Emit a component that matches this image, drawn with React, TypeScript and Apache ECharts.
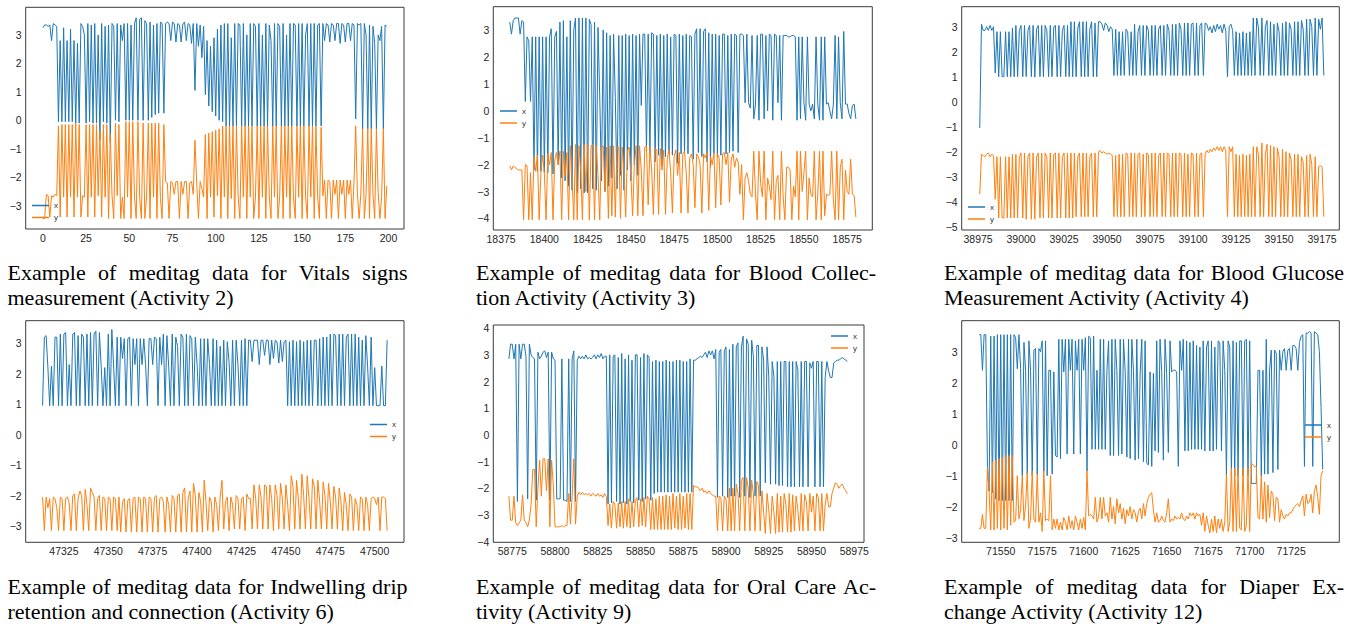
import React, { useEffect, useRef } from "react";
import * as echarts from "echarts";

// ---------------- data ----------------
const A2_START = 0;
const A2_X = [
  3.25, 3.35, 3.35, 3.3, 3.35, 2.8, 3.4, 3.35, 3.3, -0.05,
  2.8, -0.05, 3.25, -0.05, 2.8, -0.05, 3.2, -0.05, 2.8, -0.1,
  2.7, -0.1, 3.4, 3.3, 3.0, -0.1, 3.4, -0.05, 3.35, -0.1,
  3.4, -0.1, 3.0, -0.7, 3.4, -0.05, 3.3, -0.1, 3.35, -0.8,
  3.4, 3.3, 0.0, 3.4, -0.05, 3.35, 2.8, 3.4, 0.0, 3.4,
  0.0, 3.35, 0.0, 3.4, 3.6, 0.0, 3.55, 3.6, 0.0, 3.5,
  3.4, 0.0, 3.45, 0.1, 3.35, 0.2, 3.4, 0.25, 3.45, 3.4,
  0.25, 3.4, 3.45, 3.4, 2.8, 3.45, 3.4, 2.75, 3.4, 3.35,
  2.75, 3.4, 3.45, 2.8, 3.4, 3.35, 2.7, 3.4, 1.05, 3.4,
  2.6, 3.35, 2.2, 3.3, 0.9, 2.8, 0.5, 2.6, 0.3, 2.9,
  0.15, 3.2, 0.0, 3.35, -0.05, 3.4, -0.2, 3.4, -0.2, 2.9,
  -0.2, 3.4, -0.2, 3.4, 3.35, -0.2, 3.4, -0.2, 3.0, -0.2,
  3.4, -0.2, 3.4, 3.3, -0.2, 3.4, -0.2, 3.0, -0.2, 3.4,
  -0.2, 3.35, 2.8, -0.2, 3.4, -0.2, 3.4, 3.3, -0.2, 3.4,
  -0.2, 3.0, -0.2, 3.4, -0.2, 3.4, 3.35, -0.2, 3.4, -0.2,
  3.4, -0.2, 3.0, 3.4, -0.2, 3.4, -0.2, 3.4, -0.2, 3.35,
  3.4, -0.2, 3.4, 2.8, 3.4, 3.35, 2.75, 3.4, 3.35, 2.8,
  3.4, 3.4, 2.7, 3.4, 3.35, 2.75, 3.4, 3.4, 2.8, 3.4,
  3.35, 0.05, 3.4, 3.35, 3.4, -0.3, 3.4, 3.0, -0.3, 3.35,
  -0.3, 3.3, 2.7, -0.3, 3.0, 2.8, 3.3, -0.3, 3.35, 3.3,
];
const A2_Y = [
  -3.45, -3.45, -2.6, -2.65, -3.4, -2.65, -2.7, -2.6, -2.65, -0.2,
  -3.4, -0.15, -2.7, -0.15, -3.4, -0.15, -2.7, -0.15, -3.4, -0.1,
  -2.7, -0.15, -3.4, -2.65, -2.7, -0.15, -3.4, -0.15, -2.7, -0.15,
  -3.4, -0.15, -2.65, -0.4, -3.4, -0.15, -2.7, -0.15, -3.45, -0.5,
  -2.65, -3.45, -0.1, -2.65, -0.15, -3.45, -2.7, -3.45, -0.05, -2.7,
  -0.05, -3.45, -0.05, -2.7, -3.45, -0.05, -2.75, -3.45, -0.1, -3.45,
  -2.7, -0.1, -3.45, -0.1, -2.7, -0.1, -3.45, -0.1, -2.75, -3.45,
  -0.15, -2.15, -2.2, -3.45, -2.15, -2.2, -2.6, -2.15, -2.15, -3.45,
  -2.15, -2.6, -2.15, -2.15, -3.45, -2.2, -2.15, -2.6, -0.7, -2.2,
  -3.45, -2.15, -2.4, -2.7, -0.5, -3.45, -0.45, -2.7, -0.4, -3.4,
  -0.35, -2.65, -0.3, -3.45, -0.2, -2.7, -0.2, -3.45, -0.2, -2.75,
  -0.2, -3.45, -0.2, -2.7, -3.45, -0.2, -2.7, -0.2, -3.45, -0.2,
  -2.7, -0.2, -3.45, -2.7, -0.2, -3.45, -0.2, -2.7, -0.2, -3.45,
  -0.2, -2.7, -3.45, -0.2, -2.7, -0.2, -3.45, -2.7, -0.2, -3.45,
  -0.2, -2.7, -0.2, -3.45, -0.2, -2.7, -3.45, -0.2, -2.7, -0.2,
  -3.45, -0.2, -2.7, -3.45, -0.2, -2.7, -0.2, -3.45, -0.2, -2.7,
  -3.45, -0.25, -2.65, -2.1, -3.45, -2.1, -2.15, -3.45, -2.1, -2.6,
  -2.1, -3.45, -2.1, -2.6, -2.1, -3.45, -2.1, -2.6, -2.1, -3.45,
  -2.2, -0.2, -2.6, -3.45, -2.55, -0.3, -3.45, -2.6, -0.3, -3.45,
  -0.3, -2.6, -3.45, -0.3, -2.55, -3.45, -2.7, -0.3, -3.45, -2.3,
];

const A3_START = 18380;
const A3_X = [
  3.3, 2.85, 3.35, 3.45, 3.45, 3.45, 2.85, 3.35, 3.3, 0.35,
  2.75, 2.6, 0.35, 2.75, -2.2, 2.75, -2.25, 2.75, -2.25, 2.75,
  -2.3, 2.75, -2.3, 2.75, 3.05, -2.35, 2.75, 2.95, -2.0, 3.3,
  -2.5, 3.35, -2.6, 2.75, -2.8, 3.35, -2.95, 3.0, 3.45, -3.05,
  3.45, -2.9, 3.45, -3.05, 3.45, -3.05, 3.4, 3.2, -2.9, 3.3,
  -2.95, 3.1, 0.55, -2.6, 3.0, -3.0, 2.9, -2.8, 2.8, -2.5,
  2.85, 0.5, -2.9, 2.8, -2.4, 2.8, -2.95, 2.85, -2.2, 2.8,
  -2.6, 2.85, -2.0, 2.8, -2.4, 2.85, 0.2, 2.85, 2.85, -1.5,
  2.85, -1.6, 2.9, 2.85, -1.9, 2.8, -1.65, 2.85, -2.05, 2.8,
  -1.7, 2.85, -1.6, 2.75, -1.65, 2.85, 2.8, -1.95, 2.85, -1.6,
  2.8, -1.55, 2.85, -1.6, 2.8, 2.75, -1.8, 2.85, 3.05, -1.55,
  3.05, -1.7, 2.95, 3.05, -1.9, 2.9, -2.1, 2.85, -1.6, 2.85,
  -1.7, 2.8, -1.65, 2.85, 2.85, -1.6, 2.8, -1.55, 2.85, -1.5,
  2.85, 2.8, -1.55, 2.85, 2.85, 2.8, 0.3, 2.85, 0.3, 0.1,
  2.8, -0.3, 0.25, 2.8, -0.35, 2.85, 2.85, -0.3, 2.8, 0.0,
  2.85, 2.8, -0.35, 2.85, 2.8, 0.3, 2.8, -0.35, 2.8, 2.8,
  2.8, 2.75, 2.75, 2.8, 2.8, 2.75, -0.35, 2.75, -0.3, 2.75,
  0.3, -0.35, 2.75, 0.25, 0.0, 0.25, -0.3, 2.75, 0.25, -0.35,
  2.75, -0.35, 2.75, 0.25, 0.3, 0.0, -0.3, 0.25, 2.8, -0.3,
  2.75, 0.3, -0.3, 2.95, 0.25, 0.25, -0.1, -0.3, 0.2, 0.25,
  -0.3,
];
const A3_Y = [
  -2.05, -2.2, -2.05, -2.1, -2.15, -2.2, -2.2, -2.2, -4.05, -2.0,
  -2.05, -4.05, -2.3, -4.05, -1.7, -2.25, -1.65, -4.05, -2.3, -1.65,
  -2.3, -4.05, -1.6, -2.0, -1.55, -4.05, -1.85, -1.55, -2.0, -1.5,
  -4.05, -1.5, -2.4, -1.55, -4.05, -1.3, -2.5, -4.05, -1.25, -4.05,
  -1.3, -2.2, -4.05, -1.25, -3.0, -1.25, -4.05, -1.3, -1.25, -4.05,
  -1.3, -2.4, -4.05, -1.35, -1.3, -3.0, -1.35, -4.0, -1.3, -3.9,
  -1.3, -3.95, -1.35, -1.35, -4.0, -1.35, -2.3, -3.95, -1.5, -1.35,
  -2.4, -3.9, -2.0, -1.3, -3.9, -1.3, -2.2, -3.9, -1.35, -1.3,
  -3.5, -1.35, -2.2, -3.85, -1.4, -1.45, -3.85, -1.4, -2.2, -1.45,
  -3.85, -1.8, -1.45, -2.3, -3.8, -1.7, -1.45, -2.4, -1.55, -3.8,
  -1.6, -1.5, -2.3, -3.8, -1.75, -1.6, -2.0, -3.6, -1.6, -1.7,
  -2.0, -3.8, -1.6, -1.75, -1.55, -3.7, -1.7, -2.0, -1.55, -3.6,
  -1.6, -1.75, -3.5, -1.6, -1.55, -2.0, -1.55, -3.4, -1.8, -1.6,
  -2.1, -1.75, -1.9, -3.1, -2.0, -4.05, -2.5, -2.3, -2.6, -3.1,
  -3.2, -1.5, -3.1, -4.05, -1.5, -2.7, -3.2, -1.5, -4.05, -2.5,
  -2.8, -3.3, -1.5, -4.05, -2.6, -2.4, -4.05, -1.5, -3.2, -4.05,
  -2.1, -2.1, -2.2, -4.05, -2.8, -3.2, -1.5, -4.05, -1.5, -3.0,
  -2.3, -1.5, -4.05, -2.5, -3.1, -3.2, -1.5, -4.05, -3.1, -1.5,
  -4.05, -1.5, -3.9, -3.1, -3.15, -3.1, -1.5, -3.3, -4.05, -1.5,
  -4.05, -2.1, -1.8, -4.05, -2.2, -3.0, -3.1, -1.8, -3.1, -3.15,
  -3.95,
];

const A4_START = 38976;
const A4_X = [
  -1.05, 3.1, 2.85, 2.85, 3.0, 2.85, 3.05, 2.85, 3.0, 1.15,
  2.8, 1.0, 2.8, 1.0, 1.0, 2.8, 1.0, 2.8, 1.0, 2.95,
  1.0, 3.05, 1.0, 2.85, 3.05, 1.0, 3.05, 1.0, 2.85, 3.05,
  1.0, 3.05, 0.98, 2.9, 3.05, 1.0, 3.05, 1.0, 3.05, 2.85,
  1.0, 3.05, 1.0, 3.0, 3.05, 1.0, 3.05, 1.0, 2.85, 3.05,
  1.0, 3.05, 1.0, 3.2, 1.0, 3.2, 1.0, 2.95, 3.2, 1.0,
  3.2, 1.0, 3.2, 1.0, 2.9, 3.2, 1.0, 3.15, 1.0, 3.2,
  3.2, 3.1, 2.85, 3.15, 3.05, 2.8, 3.0, 2.9, 1.05, 2.9,
  1.05, 2.8, 1.05, 2.8, 1.05, 2.9, 2.8, 1.05, 2.8, 1.05,
  3.1, 1.05, 2.8, 3.05, 1.05, 3.05, 1.05, 3.05, 2.85, 1.05,
  3.05, 1.05, 3.05, 1.05, 2.9, 3.05, 1.05, 3.05, 1.05, 3.1,
  2.85, 1.05, 3.1, 1.05, 3.1, 1.05, 3.15, 2.9, 1.05, 3.15,
  1.05, 3.15, 1.05, 3.1, 3.15, 1.05, 3.15, 1.05, 3.05, 3.15,
  1.05, 3.15, 3.1, 2.85, 3.0, 2.75, 3.05, 2.8, 3.1, 2.9,
  3.05, 2.75, 3.1, 2.85, 1.0, 3.0, 3.1, 2.85, 1.05, 2.8,
  1.05, 2.75, 1.05, 2.8, 1.05, 2.75, 1.05, 2.8, 1.05, 3.35,
  1.05, 3.35, 2.95, 1.05, 3.35, 1.05, 3.0, 3.25, 1.05, 3.2,
  1.05, 3.1, 1.05, 3.15, 2.8, 1.05, 3.15, 1.05, 3.2, 1.05,
  3.15, 2.9, 1.05, 3.2, 1.05, 3.2, 1.05, 3.25, 2.9, 1.05,
  3.3, 1.05, 3.3, 3.0, 1.05, 3.35, 1.05, 3.3, 2.9, 3.35,
  1.05,
];
const A4_Y = [
  -3.7, -2.1, -2.15, -2.2, -2.1, -2.05, -2.2, -2.1, -2.15, -3.9,
  -2.2, -4.65, -2.2, -4.65, -4.65, -2.2, -4.65, -2.2, -4.65, -2.1,
  -4.65, -2.1, -4.65, -2.2, -2.05, -4.65, -2.05, -4.7, -2.2, -2.05,
  -4.7, -2.05, -4.7, -2.2, -2.05, -4.65, -2.05, -4.65, -2.05, -2.2,
  -4.65, -2.05, -4.65, -2.1, -2.05, -4.65, -2.05, -4.65, -2.2, -2.05,
  -4.65, -2.05, -4.65, -2.05, -4.65, -2.05, -4.6, -2.2, -2.05, -4.6,
  -2.05, -4.6, -2.05, -4.6, -2.2, -2.05, -4.6, -2.05, -4.6, -2.0,
  -1.95, -2.05, -2.0, -2.05, -2.1, -2.05, -2.1, -2.15, -4.6, -2.15,
  -4.6, -2.1, -4.6, -2.1, -4.6, -2.05, -2.1, -4.6, -2.05, -4.6,
  -2.05, -4.6, -2.1, -2.05, -4.6, -2.1, -4.6, -2.05, -2.1, -4.6,
  -2.05, -4.6, -2.05, -4.6, -2.15, -2.05, -4.6, -2.05, -4.6, -2.05,
  -2.1, -4.6, -2.05, -4.6, -2.05, -4.6, -2.05, -2.1, -4.6, -2.05,
  -4.6, -2.1, -4.6, -2.05, -2.1, -4.6, -2.05, -4.6, -2.1, -2.05,
  -4.6, -2.1, -1.95, -2.05, -1.9, -2.0, -1.85, -1.95, -1.8, -1.95,
  -1.8, -2.0, -1.8, -1.95, -4.6, -1.8, -2.0, -1.8, -4.6, -2.1,
  -4.6, -2.15, -4.6, -2.1, -4.6, -2.15, -4.6, -2.1, -4.6, -1.8,
  -4.6, -1.8, -2.1, -4.6, -1.65, -4.6, -2.1, -1.7, -4.6, -1.75,
  -4.6, -1.8, -4.6, -1.85, -2.2, -4.6, -1.9, -4.6, -2.0, -4.6,
  -2.05, -2.3, -4.6, -2.1, -4.6, -2.1, -4.6, -2.2, -2.4, -4.6,
  -2.15, -4.6, -2.1, -2.5, -4.6, -2.2, -4.6, -2.6, -2.55, -2.6,
  -4.6,
];

const A6_START = 47313;
const A6_X = [
  0.95, 3.2, 3.25, 2.2, 0.95, 2.25, 0.95, 3.2, 3.2, 0.95,
  3.3, 0.95, 3.3, 3.35, 0.95, 2.3, 0.95, 3.3, 3.35, 0.95,
  3.25, 0.95, 3.3, 3.2, 0.95, 3.3, 0.95, 3.35, 0.95, 3.3,
  3.4, 0.95, 3.35, 2.25, 0.95, 2.2, 0.95, 3.3, 0.95, 3.45,
  2.25, 0.95, 3.2, 0.95, 3.2, 2.5, 3.15, 0.95, 3.15, 3.2,
  0.95, 3.15, 2.3, 3.15, 0.95, 3.15, 2.3, 3.15, 2.3, 0.95,
  3.15, 3.15, 2.3, 3.2, 3.15, 0.95, 3.2, 2.3, 3.3, 0.95,
  3.25, 2.25, 0.95, 3.3, 0.95, 3.2, 2.9, 0.95, 3.3, 3.2,
  0.95, 3.3, 0.95, 3.25, 3.15, 0.95, 3.2, 2.3, 0.95, 3.15,
  0.95, 3.15, 0.95, 3.15, 2.3, 0.95, 3.15, 0.95, 3.1, 0.95,
  2.9, 0.95, 3.1, 0.95, 3.05, 2.4, 0.95, 3.1, 0.95, 3.1,
  2.3, 0.95, 3.1, 0.95, 3.15, 0.95, 3.1, 3.1, 2.4, 3.1,
  3.1, 3.1, 2.3, 3.1, 3.1, 2.6, 3.1, 3.1, 2.3, 3.1,
  2.5, 3.1, 3.05, 2.35, 3.1, 2.4, 3.05, 3.1, 0.95, 3.05,
  0.95, 3.1, 0.95, 3.05, 0.95, 3.1, 0.95, 3.05, 0.95, 3.1,
  0.95, 3.1, 0.95, 3.1, 3.1, 0.95, 3.15, 0.95, 3.2, 0.95,
  3.2, 0.95, 3.3, 0.95, 3.3, 3.25, 0.95, 3.3, 0.95, 3.3,
  0.95, 3.2, 3.3, 0.95, 3.3, 0.95, 3.3, 0.95, 3.2, 0.95,
  3.1, 0.95, 3.25, 2.25, 0.95, 3.2, 0.95, 2.2, 0.95, 0.95,
  0.95, 2.25, 0.95, 0.95, 3.1,
];
const A6_Y = [
  -2.05, -3.15, -2.05, -2.4, -2.1, -3.15, -2.05, -2.1, -2.4, -3.15,
  -2.05, -2.1, -3.15, -2.1, -2.05, -2.25, -3.15, -2.0, -1.95, -3.15,
  -2.1, -1.85, -2.0, -3.15, -1.8, -2.3, -3.15, -1.75, -1.9, -2.05,
  -3.15, -2.1, -2.0, -3.15, -2.05, -2.1, -3.15, -2.05, -2.1, -3.15,
  -2.05, -2.1, -3.15, -2.05, -3.2, -2.2, -2.1, -3.2, -2.15, -2.1,
  -3.2, -2.1, -2.05, -3.2, -2.05, -2.1, -3.2, -2.05, -2.1, -3.2,
  -2.05, -2.1, -3.2, -2.05, -2.0, -3.2, -2.1, -2.05, -2.2, -3.2,
  -2.05, -2.3, -3.2, -2.0, -2.1, -3.2, -2.0, -1.95, -3.2, -1.9,
  -1.75, -3.2, -2.1, -1.85, -3.2, -1.6, -2.0, -3.2, -1.9, -2.2,
  -3.2, -1.5, -2.2, -3.15, -2.05, -2.2, -3.2, -2.05, -2.3, -3.15,
  -2.05, -1.5, -3.1, -2.2, -2.05, -3.15, -2.05, -2.3, -3.1, -2.0,
  -2.1, -3.1, -2.1, -2.05, -3.15, -1.95, -2.1, -2.1, -3.1, -1.65,
  -2.1, -3.1, -1.65, -2.05, -3.1, -1.65, -1.7, -3.1, -1.65, -2.1,
  -3.15, -1.65, -2.0, -3.1, -1.6, -2.1, -3.1, -1.65, -2.3, -3.15,
  -1.35, -1.7, -3.1, -1.5, -2.1, -3.1, -1.3, -2.0, -3.1, -1.35,
  -2.1, -3.1, -1.45, -1.7, -3.1, -1.5, -2.2, -3.1, -1.55, -2.0,
  -3.1, -1.6, -2.2, -3.1, -1.7, -2.05, -3.1, -1.75, -2.2, -3.15,
  -1.9, -2.3, -3.15, -1.95, -2.05, -3.15, -2.1, -2.3, -3.15, -2.05,
  -2.1, -3.15, -2.05, -2.3, -3.15, -2.1, -2.05, -2.1, -2.3, -2.05,
  -3.15, -2.05, -2.05, -2.1, -3.15,
];

const A9_START = 58773;
const A9_X = [
  2.85, 3.4, 3.4, 2.85, 3.4, -2.5, 3.4, 2.85, 3.4, 3.4,
  2.95, -2.4, 3.4, 3.0, 2.9, 2.85, -2.45, 3.1, 2.85, 2.95,
  3.1, 3.15, 2.9, 3.1, -2.45, 3.1, 2.85, 2.8, -2.4, -2.4,
  -2.4, 2.85, -2.45, -2.45, -2.5, 2.85, -2.5, 2.85, 3.15, -2.5,
  2.8, 2.95, 2.85, 2.95, 2.85, 3.0, 2.85, 2.9, 2.85, 2.9,
  3.0, 2.85, 3.0, 2.9, 3.05, 2.85, 2.95, 2.95, -2.6, 3.0,
  -2.55, 2.95, 3.0, -2.5, 2.9, -2.6, 3.05, -2.55, 2.85, -2.6,
  3.0, -2.5, 2.8, -2.55, 3.0, 3.0, -2.45, 2.9, -2.5, 3.05,
  -2.4, 3.0, 2.9, -2.45, 2.75, -2.2, 2.8, -2.15, 2.75, -2.15,
  2.75, -2.15, 2.8, -2.15, 2.75, -2.15, 2.75, -2.15, 2.8, -2.15,
  2.8, -2.15, 2.75, -2.15, 2.75, -2.15, 2.85, -2.15, 2.8, 2.8,
  2.85, 2.9, 2.95, 2.9, 3.0, 3.1, 2.9, 3.15, 3.0, 3.15,
  2.85, 3.2, -2.35, 3.1, 3.2, -2.3, 3.15, 3.3, -2.35, 3.2,
  -2.3, 3.4, -2.3, 3.3, 3.45, -2.35, 3.3, 3.7, -2.3, 3.6,
  3.4, -2.35, 3.55, 2.95, -2.3, 3.35, 3.35, -2.3, 3.3, 2.8,
  -1.8, 3.3, 2.2, -1.85, 2.75, 2.2, -1.85, 2.75, -1.9, 2.75,
  -1.9, 2.75, 2.75, -1.95, 2.75, -1.95, 2.75, -1.95, 2.75, 2.45,
  -1.95, 2.75, -1.95, 2.75, 2.75, -1.95, 2.7, 2.5, 2.75, -1.95,
  2.75, 2.75, -1.95, 2.75, -1.95, 2.15, 2.75, 2.4, 2.15, 2.15,
  2.7, 2.75, 2.8, 2.8, 2.85, 2.9, 2.85, 2.8, 2.75,
];
const A9_Y = [
  -2.3, -3.2, -3.2, -2.3, -3.3, -3.4, -3.3, -3.2, -2.25, -3.2,
  -3.3, -3.45, -3.2, -2.6, -1.3, -1.3, -3.45, -2.0, -0.95, -2.3,
  -0.9, -0.9, -2.1, -0.9, -3.45, -0.95, -1.9, -3.45, -3.45, -3.45,
  -3.45, -3.4, -3.45, -3.4, -3.4, -2.2, -3.35, -2.3, -0.9, -3.35,
  -2.3, -2.15, -2.25, -2.15, -2.25, -2.2, -2.25, -2.2, -2.3, -2.2,
  -2.25, -2.3, -2.2, -2.3, -2.25, -2.35, -2.2, -2.3, -3.4, -2.6,
  -3.5, -2.5, -2.6, -3.5, -2.55, -3.45, -2.5, -3.5, -2.5, -3.45,
  -2.4, -3.5, -2.5, -3.45, -2.45, -2.35, -3.45, -2.4, -3.4, -2.35,
  -3.45, -2.3, -2.4, -3.55, -2.35, -3.55, -2.4, -3.55, -2.3, -3.55,
  -2.3, -3.55, -2.25, -3.55, -2.3, -3.55, -2.2, -3.5, -2.3, -3.55,
  -2.2, -3.55, -2.3, -3.5, -2.2, -3.55, -2.2, -3.55, -1.9, -1.95,
  -1.95, -2.0, -2.1, -2.0, -2.15, -2.1, -2.2, -2.1, -2.2, -2.25,
  -2.3, -2.3, -3.6, -2.3, -2.35, -3.6, -2.3, -2.4, -3.6, -2.0,
  -3.6, -2.0, -3.6, -1.85, -2.2, -3.6, -1.7, -1.6, -3.6, -1.6,
  -2.0, -3.6, -1.7, -2.2, -3.6, -1.75, -1.9, -3.6, -2.1, -2.9,
  -3.7, -2.2, -2.8, -3.7, -2.3, -2.9, -3.7, -2.2, -3.65, -2.3,
  -3.65, -2.2, -2.6, -3.65, -2.2, -3.65, -2.25, -3.6, -2.3, -2.8,
  -3.6, -2.2, -3.6, -2.25, -2.5, -3.6, -2.2, -2.9, -2.3, -3.6,
  -2.2, -2.35, -3.6, -2.2, -3.6, -2.6, -2.2, -2.7, -2.7, -2.2,
  -2.0, -1.8, -1.85, -2.0, -1.9, -1.85, -2.0, -2.1, -2.2,
];

const A12_START = 71537;
const A12_X = [
  3.55, 3.55, 2.4, 3.55, 3.55, -0.7, -1.5, 3.5, -1.55, 3.5,
  -1.75, 3.55, -1.8, 3.55, -1.8, 3.55, -1.8, 3.55, -1.8, 3.55,
  -1.8, 3.55, 3.45, 2.45, 3.55, 2.45, -1.0, 3.3, 2.4, -0.95,
  3.35, 2.4, -1.0, 3.05, 3.1, -0.95, 3.1, 3.0, 3.35, -0.85,
  3.35, -1.0, 2.4, 2.4, -0.95, 2.35, -0.35, -0.4, 3.4, -0.45,
  3.4, 2.35, 3.4, -0.3, 3.4, 2.4, 3.4, -0.3, 3.35, 2.4,
  3.4, -0.3, 3.4, 2.4, 3.45, -0.85, 3.5, 3.45, -0.15, 3.5,
  -0.15, 2.4, -0.15, 3.4, -0.15, 3.4, -0.15, 2.4, 3.35, -0.35,
  3.4, -0.35, 3.4, 2.4, -0.35, 3.4, -0.3, 3.4, 2.35, -0.4,
  3.4, -0.45, 3.4, 2.35, -0.5, 3.4, -0.45, 2.3, 3.4, -0.55,
  3.35, -0.6, -0.65, 2.35, -0.7, 2.3, -0.2, 3.35, -0.25, 3.4,
  2.35, -0.5, 3.4, 2.3, -0.25, 3.35, 2.35, 2.4, 2.4, 2.35,
  -0.7, 3.35, 2.4, 3.4, -0.2, 3.35, -0.2, 3.3, -0.15, 3.35,
  -0.15, 3.2, -0.15, 3.15, -0.15, 3.35, -0.2, 3.15, 3.35, -0.2,
  3.35, -0.2, 3.15, -0.15, 3.35, 3.3, -0.2, 3.35, 2.4, -1.0,
  3.35, 3.15, -1.0, 3.35, -1.0, 3.3, -1.0, 3.35, 3.35, -1.0,
  3.35, 3.4, -1.0, 3.35, -1.25, -1.25, -1.25, -1.25, 2.4, 2.4,
  -1.0, 2.4, -0.95, 3.4, -0.95, 2.4, 3.05, -0.9, 3.05, 2.95,
  -0.8, 3.05, 2.4, 3.0, 3.1, 2.4, 3.05, 3.1, 2.4, 3.2,
  3.2, 3.1, 2.4, 3.3, 3.5, 3.55, -0.7, 3.6, 3.6, 3.65,
  3.6, -0.7, 3.65, 3.6, 3.55, 3.0, 1.2, -0.8,
];
const A12_Y = [
  -2.7, -2.7, -2.25, -2.7, -2.7, -0.75, -1.5, -2.75, -0.55, -2.75,
  -0.5, -2.7, -0.45, -2.75, -0.4, -2.7, -0.35, -2.75, -0.35, -2.6,
  -0.35, -2.5, -2.45, -1.0, -2.4, -2.1, -1.0, -2.45, -1.95, -0.9,
  -2.7, -2.4, -0.85, -2.4, -2.5, -0.95, -2.5, -2.2, -2.8, -0.85,
  -2.45, -2.4, -2.45, -1.0, -2.75, -2.4, -2.7, -2.4, -2.75, -2.5,
  -2.75, -2.35, -2.5, -2.75, -2.3, -2.7, -2.45, -2.75, -2.3, -2.5,
  -2.75, -2.4, -2.7, -2.35, -2.75, -0.85, -2.3, -2.25, -2.3, -2.4,
  -1.7, -2.5, -2.3, -1.7, -2.4, -1.7, -2.3, -2.2, -2.5, -1.7,
  -2.4, -2.0, -2.55, -1.75, -2.2, -1.9, -2.4, -2.05, -2.55, -2.1,
  -2.3, -2.0, -2.4, -2.1, -2.2, -2.5, -2.15, -2.05, -2.4, -1.9,
  -2.3, -1.9, -1.7, -1.6, -1.55, -2.1, -2.5, -2.2, -2.5, -2.45,
  -2.3, -2.45, -2.5, -2.2, -1.75, -2.5, -2.4, -2.45, -2.3, -2.4,
  -2.35, -2.4, -2.2, -2.4, -2.45, -2.3, -2.4, -2.2, -2.3, -2.2,
  -2.4, -2.2, -2.3, -2.25, -2.6, -2.2, -2.8, -2.3, -2.6, -2.85,
  -2.4, -2.8, -2.3, -2.85, -2.4, -2.7, -2.4, -2.8, -2.5, -0.95,
  -2.8, -2.5, -0.75, -2.8, -0.75, -2.8, -0.8, -2.7, -2.75, -0.75,
  -2.8, -2.6, -0.75, -2.8, -0.6, -0.65, -0.7, -0.7, -2.35, -2.4,
  -1.0, -2.4, -1.2, -2.5, -1.3, -2.35, -1.5, -1.6, -2.45, -1.7,
  -1.75, -2.5, -2.1, -2.3, -2.4, -2.25, -2.3, -2.2, -2.2, -2.1,
  -2.0, -1.95, -1.9, -2.0, -1.8, -1.65, -2.3, -1.6, -1.9, -1.85,
  -1.6, -2.2, -1.5, -1.3, -1.7, -2.25, -1.0, -0.85,
];

const TICKS_A2_X = [0, 25, 50, 75, 100, 125, 150, 175, 200];
const TICKS_A3_X = [18375, 18400, 18425, 18450, 18475, 18500, 18525, 18550, 18575];
const TICKS_A4_X = [38975, 39000, 39025, 39050, 39075, 39100, 39125, 39150, 39175];
const TICKS_A6_X = [47325, 47350, 47375, 47400, 47425, 47450, 47475, 47500];
const TICKS_A9_X = [58775, 58800, 58825, 58850, 58875, 58900, 58925, 58950, 58975];
const TICKS_A12_X = [71550, 71575, 71600, 71625, 71650, 71675, 71700, 71725];

const TICKS_Y_3 = [-3, -2, -1, 0, 1, 2, 3];
const TICKS_Y_4 = [-4, -3, -2, -1, 0, 1, 2, 3];
const TICKS_Y_5 = [-5, -4, -3, -2, -1, 0, 1, 2, 3];
const TICKS_Y_44 = [-4, -3, -2, -1, 0, 1, 2, 3, 4];

const CAPTION_LINES = [
  ["Example of meditag data for Vitals signs", "measurement (Activity 2)"],
  ["Example of meditag data for Blood Collec-", "tion Activity (Activity 3)"],
  ["Example of meditag data for Blood Glucose", "Measurement Activity (Activity 4)"],
  ["Example of meditag data for Indwelling drip", "retention and connection (Activity 6)"],
  ["Example of meditag data for Oral Care Ac-", "tivity (Activity 9)"],
  ["Example of meditag data for Diaper Ex-", "change Activity (Activity 12)"],
];

// ---------------- layout ----------------
const PANELS = [
  { xs: A2_X, ys: A2_Y, start: A2_START, xt: TICKS_A2_X, yt: TICKS_Y_3,
    left: 25.7, top: 7.3, width: 378.3, height: 221.7,
    xMin: -9.95, xMax: 208.95, yMin: -3.82, yMax: 3.97, legLeft: 32, legTop: 200.5 },
  { xs: A3_X, ys: A3_Y, start: A3_START, xt: TICKS_A3_X, yt: TICKS_Y_4,
    left: 493.3, top: 6.7, width: 379, height: 223.3,
    xMin: 18370.5, xMax: 18589.5, yMin: -4.43, yMax: 3.87, legLeft: 500, legTop: 106 },
  { xs: A4_X, ys: A4_Y, start: A4_START, xt: TICKS_A4_X, yt: TICKS_Y_5,
    left: 961.7, top: 6.7, width: 377.6, height: 223.3,
    xMin: 38965.5, xMax: 39185, yMin: -5.13, yMax: 3.8, legLeft: 968, legTop: 202 },
  { xs: A6_X, ys: A6_Y, start: A6_START, xt: TICKS_A6_X, yt: TICKS_Y_3,
    left: 25.7, top: 320.7, width: 378.3, height: 221.6,
    xMin: 47303.5, xMax: 47516.5, yMin: -3.535, yMax: 3.74, legLeft: 370, legTop: 419.5 },
  { xs: A9_X, ys: A9_Y, start: A9_START, xt: TICKS_A9_X, yt: TICKS_Y_44,
    left: 493.3, top: 325, width: 370.7, height: 217.3,
    xMin: 58763.9, xMax: 58980.7, yMin: -4.03, yMax: 4.12, legLeft: 831, legTop: 331 },
  { xs: A12_X, ys: A12_Y, start: A12_START, xt: TICKS_A12_X, yt: TICKS_Y_3,
    left: 961.7, top: 320.7, width: 377.6, height: 221.6,
    xMin: 71526.5, xMax: 71754, yMin: -3.15, yMax: 4.0, legLeft: 1305, legTop: 420 },
];

const CAPTION_POS = [
  { left: 7.5, top: 260 },
  { left: 476, top: 260 },
  { left: 944, top: 260 },
  { left: 7.5, top: 574 },
  { left: 476, top: 574 },
  { left: 944, top: 574 },
];

const BLUE = "#1f77b4";
const ORANGE = "#ff7f0e";
const TICK_FONT = "'Liberation Sans', Arial, sans-serif";

const fmtNum = (v: number) => (v < 0 ? "\u2212" + Math.abs(v) : String(v));

function buildOption() {
  const grid = PANELS.map((p) => ({
    left: p.left, top: p.top, width: p.width, height: p.height,
    show: true, borderColor: "#3a3a3a", borderWidth: 1, backgroundColor: "transparent",
  }));
  const xAxis = PANELS.map((p, i) => ({
    type: "value", gridIndex: i, min: p.xMin, max: p.xMax,
    axisLine: { show: false }, axisTick: { show: false }, splitLine: { show: false },
    axisLabel: {
      customValues: p.xt, formatter: (v: number) => fmtNum(v),
      fontSize: 10.5, color: "#262626", margin: 3, fontFamily: TICK_FONT,
    },
  }));
  const yAxis = PANELS.map((p, i) => ({
    type: "value", gridIndex: i, min: p.yMin, max: p.yMax,
    axisLine: { show: false }, axisTick: { show: false }, splitLine: { show: false },
    axisLabel: {
      customValues: p.yt, formatter: (v: number) => fmtNum(v),
      fontSize: 10.5, color: "#262626", margin: 4, fontFamily: TICK_FONT,
    },
  }));
  const series: any[] = [];
  PANELS.forEach((p, i) => {
    series.push({
      type: "line", name: "x", xAxisIndex: i, yAxisIndex: i,
      data: p.xs.map((v, k) => [p.start + k, v]),
      showSymbol: false, symbol: "none",
      lineStyle: { width: 1, color: BLUE }, itemStyle: { color: BLUE },
    });
    series.push({
      type: "line", name: "y", xAxisIndex: i, yAxisIndex: i,
      data: p.ys.map((v, k) => [p.start + k, v]),
      showSymbol: false, symbol: "none",
      lineStyle: { width: 1, color: ORANGE }, itemStyle: { color: ORANGE },
    });
  });
  const legend = PANELS.map((p) => ({
    left: p.legLeft, top: p.legTop, orient: "vertical", padding: 0,
    data: ["x", "y"], icon: "rect", itemWidth: 17, itemHeight: 1.5, itemGap: 2,
    selectedMode: false,
    textStyle: { fontSize: 8, color: "#333", lineHeight: 10, fontFamily: TICK_FONT },
  }));
  return { animation: false, grid, xAxis, yAxis, series, legend };
}

export default function App() {
  const ref = useRef<HTMLDivElement>(null);
  useEffect(() => {
    if (!ref.current) return;
    const chart = echarts.init(ref.current, null, { renderer: "svg" });
    chart.setOption(buildOption() as any);
    return () => chart.dispose();
  }, []);

  return (
    <div style={{ position: "absolute", left: 0, top: 0, width: 1354, height: 625, background: "#fff" }}>
      <div ref={ref} style={{ position: "absolute", left: 0, top: 0, width: 1354, height: 625 }} />
      {CAPTION_LINES.map((lines, i) => (
        <div
          key={i}
          style={{
            position: "absolute", left: CAPTION_POS[i].left, top: CAPTION_POS[i].top, width: 400,
            fontFamily: "'Liberation Serif', 'Times New Roman', serif", fontSize: 22,
            lineHeight: "25px", color: "#000",
          }}
        >
          <div style={{ textAlign: "justify", textAlignLast: "justify" } as any}>{lines[0]}</div>
          <div style={{ textAlign: "left" }}>{lines[1]}</div>
        </div>
      ))}
    </div>
  );
}
